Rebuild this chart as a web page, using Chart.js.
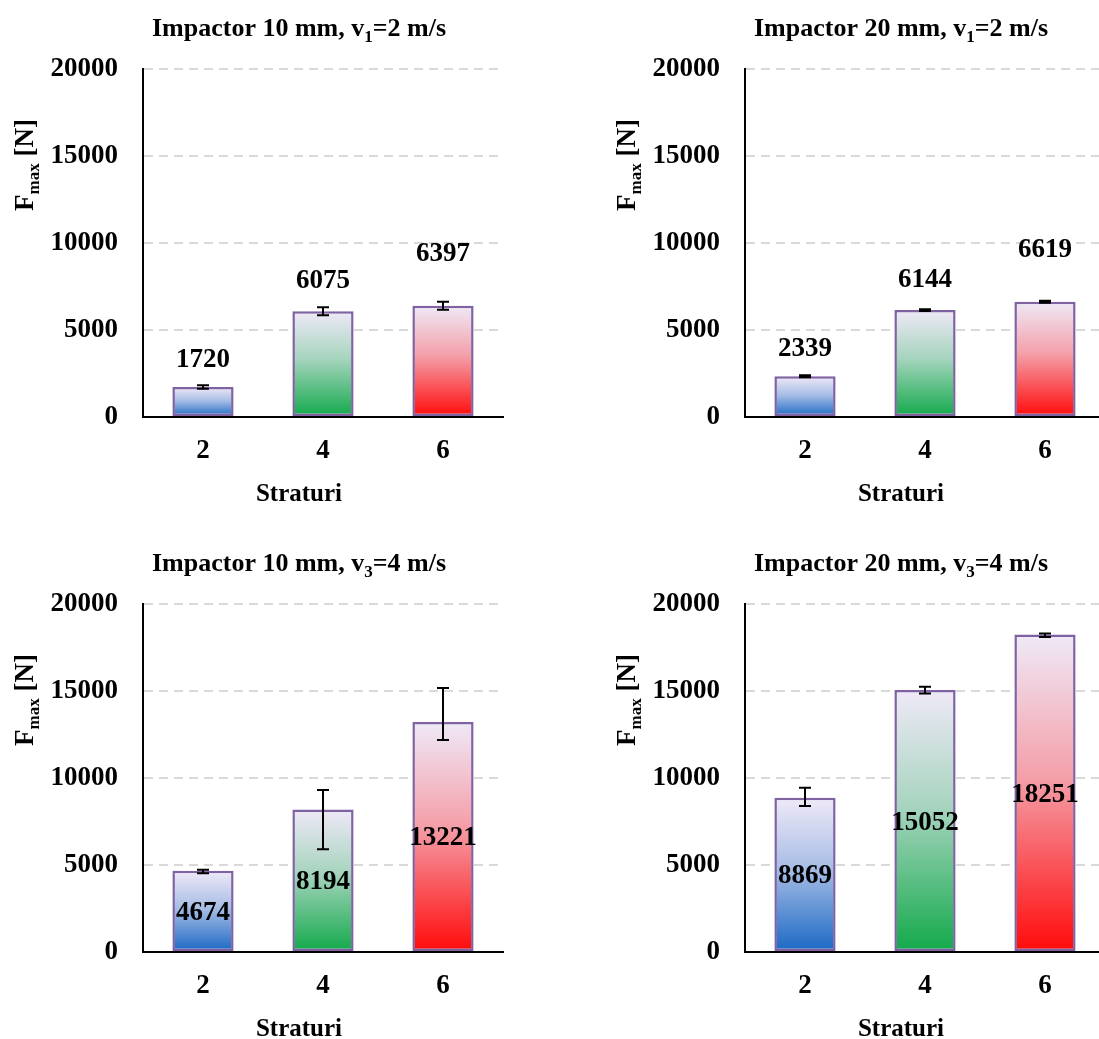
<!DOCTYPE html>
<html>
<head>
<meta charset="utf-8">
<script src="https://cdn.jsdelivr.net/npm/chart.js@4.4.1/dist/chart.umd.min.js"></script>
<style>
  html, body { margin: 0; padding: 0; background: #fff; overflow: hidden; }
  #wrap { position: relative; width: 1099px; height: 1039px; overflow: hidden; }
  canvas { position: absolute; }
</style>
</head>
<body>
<div id="wrap">
  <canvas id="c1" width="560" height="530" style="left:0;top:0"></canvas>
  <canvas id="c2" width="560" height="530" style="left:602px;top:0"></canvas>
  <canvas id="c3" width="560" height="530" style="left:0;top:535px"></canvas>
  <canvas id="c4" width="560" height="530" style="left:602px;top:535px"></canvas>
</div>
<script>
// layers
var categories = ['2', '4', '6'];
var yTicks = [0, 5000, 10000, 15000, 20000];

// F max [N], mean values
var fmax10v1 = [1720, 6075, 6397];
var fmax20v1 = [2339, 6144, 6619];
var fmax10v3 = [4674, 8194, 13221];
var fmax20v3 = [8869, 15052, 18251];

// error bars (up / down)
var errUp10v1 = [100, 230, 230];
var errDown10v1 = [100, 230, 230];
var errUp20v1 = [60, 50, 60];
var errDown20v1 = [60, 50, 60];
var errUp10v3 = [50, 1115, 1950];
var errDown10v3 = [150, 2290, 1035];
var errUp20v3 = [570, 190, 60];
var errDown20v3 = [480, 190, 150];

var barColors = ['#1a68c4', '#12a94a', '#ff0a0a'];
var topColor = '#efe9f7';
var FONT = "'Liberation Serif', 'Times New Roman', serif";

function mix(a, b, t) {
  var pa = [parseInt(a.substr(1, 2), 16), parseInt(a.substr(3, 2), 16), parseInt(a.substr(5, 2), 16)];
  var pb = [parseInt(b.substr(1, 2), 16), parseInt(b.substr(3, 2), 16), parseInt(b.substr(5, 2), 16)];
  return 'rgb(' + pa.map(function(v, i) { return Math.round(v + (pb[i] - v) * t); }).join(',') + ')';
}

// draws a list of {t, sub} parts centered at x, baseline y
function drawRich(ctx, parts, x, y, size, subSize) {
  var w = 0;
  parts.forEach(function(p) {
    ctx.font = 'bold ' + (p.sub ? subSize : size) + 'px ' + FONT;
    p.w = ctx.measureText(p.t).width;
    w += p.w;
  });
  var cx = x - w / 2;
  ctx.textAlign = 'left';
  ctx.textBaseline = 'alphabetic';
  parts.forEach(function(p) {
    ctx.font = 'bold ' + (p.sub ? subSize : size) + 'px ' + FONT;
    ctx.fillText(p.t, cx, y + (p.sub ? size * 0.22 : 0));
    cx += p.w;
  });
}

var decor = {
  id: 'decor',
  afterDatasetsDraw: function(chart, args, opts) {
    var ctx = chart.ctx;
    var area = chart.chartArea;
    var y = chart.scales.y;
    var meta = chart.getDatasetMeta(0);
    var values = chart.data.datasets[0].data;
    ctx.save();
    ctx.fillStyle = '#000';
    ctx.strokeStyle = '#000';
    ctx.lineWidth = 2;

    // error bars
    meta.data.forEach(function(bar, i) {
      var yt = y.getPixelForValue(values[i] + opts.errUp[i]);
      var yb = y.getPixelForValue(values[i] - opts.errDown[i]);
      ctx.beginPath();
      ctx.moveTo(bar.x, yt); ctx.lineTo(bar.x, yb);
      ctx.moveTo(bar.x - 6, yt); ctx.lineTo(bar.x + 6, yt);
      ctx.moveTo(bar.x - 6, yb); ctx.lineTo(bar.x + 6, yb);
      ctx.stroke();
    });

    // value labels
    ctx.font = 'bold 27px ' + FONT;
    ctx.textAlign = 'center';
    ctx.textBaseline = 'middle';
    meta.data.forEach(function(bar, i) {
      var ly;
      if (opts.inside) ly = (bar.y + bar.base) / 2 + 2;
      else ly = bar.y - opts.lift[i];
      ctx.fillText(String(values[i]), bar.x, ly);
    });

    // title
    var cx = area.left + 156;
    drawRich(ctx, opts.title, cx, area.top - 33, 26, 17);
    // x title
    drawRich(ctx, [{t: 'Straturi'}], cx, area.bottom + 84, 25, 16);
    // y title, rotated
    ctx.translate(33, area.top + 96);
    ctx.rotate(-Math.PI / 2);
    drawRich(ctx, [{t: 'F'}, {t: 'max', sub: true}, {t: ' [N]'}], 0, 0, 27, 17);
    ctx.restore();
  }
};

function makeChart(id, values, errUp, errDown, title, inside) {
  return new Chart(document.getElementById(id), {
    type: 'bar',
    data: {
      labels: categories,
      datasets: [{
        data: values,
        borderColor: '#7e62a2',
        borderWidth: 2.5,
        borderSkipped: false,
        categoryPercentage: 1,
        barPercentage: 0.51,
        backgroundColor: function(c) {
          var chart = c.chart;
          if (!chart.chartArea || c.raw === undefined) return barColors[c.dataIndex];
          var ys = chart.scales.y;
          var top = ys.getPixelForValue(c.raw);
          var bottom = ys.getPixelForValue(0);
          var g = chart.ctx.createLinearGradient(0, top, 0, bottom);
          var col = barColors[c.dataIndex];
          g.addColorStop(0, topColor);
          g.addColorStop(0.45, mix(topColor, col, 0.33));
          g.addColorStop(1, col);
          return g;
        }
      }]
    },
    options: {
      responsive: false,
      animation: false,
      layout: { padding: { left: 0, top: 69, right: 57, bottom: 0 } },
      plugins: {
        legend: { display: false },
        tooltip: { enabled: false },
        decor: { errUp: errUp, errDown: errDown, title: title, inside: inside, lift: [27, 30, 52] }
      },
      scales: {
        x: {
          grid: { display: false, drawTicks: false },
          border: { color: '#000', width: 2 },
          ticks: { color: '#000', font: { family: FONT, size: 27, weight: 'bold' }, padding: 18 },
          afterFit: function(s) { s.height = 113; }
        },
        y: {
          min: 0,
          max: 20000,
          afterBuildTicks: function(s) { s.ticks = yTicks.map(function(v) { return { value: v }; }); },
          grid: {
            drawTicks: false,
            lineWidth: 2,
            color: function(c) { return c.tick && c.tick.value === 0 ? 'rgba(0,0,0,0)' : '#d9d9d9'; }
          },
          border: { color: '#000', width: 2, dash: [9, 6] },
          ticks: {
            color: '#000',
            font: { family: FONT, size: 27, weight: 'bold' },
            padding: 25,
            callback: function(v) { return String(v); }
          },
          afterFit: function(s) { s.width = 143; }
        }
      }
    },
    plugins: [decor]
  });
}

makeChart('c1', fmax10v1, errUp10v1, errDown10v1,
  [{t: 'Impactor 10 mm, v'}, {t: '1', sub: true}, {t: '=2 m/s'}], false);
makeChart('c2', fmax20v1, errUp20v1, errDown20v1,
  [{t: 'Impactor 20 mm, v'}, {t: '1', sub: true}, {t: '=2 m/s'}], false);
makeChart('c3', fmax10v3, errUp10v3, errDown10v3,
  [{t: 'Impactor 10 mm, v'}, {t: '3', sub: true}, {t: '=4 m/s'}], true);
makeChart('c4', fmax20v3, errUp20v3, errDown20v3,
  [{t: 'Impactor 20 mm, v'}, {t: '3', sub: true}, {t: '=4 m/s'}], true);
</script>
</body>
</html>
